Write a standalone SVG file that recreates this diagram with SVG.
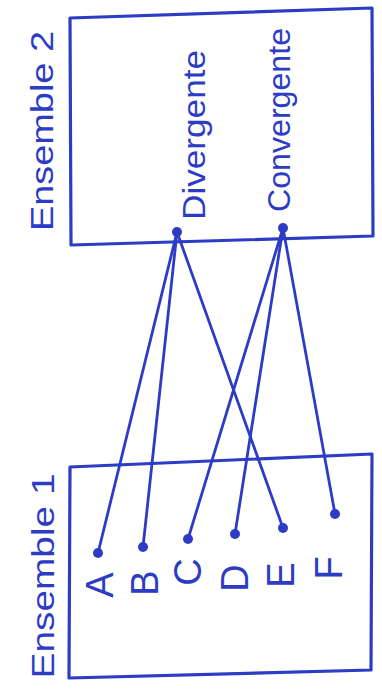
<svg xmlns="http://www.w3.org/2000/svg" width="382" height="696" viewBox="0 0 382 696">
<style>
.box{fill:none;stroke:#2c3cc4;stroke-width:3.2;stroke-linejoin:round}
.lbl{font-family:"Liberation Sans",Arial,sans-serif;fill:#2c3cc4;text-anchor:middle}
.big{font-size:32px}
.let{font-size:38px}
.edge{stroke:#2c3cc4;stroke-width:2.8;stroke-linecap:round}
.dot{fill:#2c3cc4}
</style>
<rect width="382" height="696" fill="#ffffff"/>
<g id="ensemble2">
<polygon class="box" points="70,18 372,8 373,236 71,245"/>
<text class="lbl big" x="53" y="131" transform="rotate(-90 53 131)" textLength="200" lengthAdjust="spacingAndGlyphs">Ensemble 2</text>
</g>
<g id="divergente">
<text class="lbl big" x="205" y="135" transform="rotate(-90 205 135)" textLength="170" lengthAdjust="spacingAndGlyphs">Divergente</text>
<circle class="dot" cx="177" cy="232" r="5"/>
</g>
<g id="convergente">
<text class="lbl big" x="290" y="120" transform="rotate(-90 290 120)" textLength="184" lengthAdjust="spacingAndGlyphs">Convergente</text>
<circle class="dot" cx="283" cy="228" r="5"/>
</g>
<g id="ensemble1">
<polygon class="box" points="70,467 372,454 371,670 69,678"/>
<text class="lbl big" x="54" y="576" transform="rotate(-90 54 576)" textLength="205" lengthAdjust="spacingAndGlyphs">Ensemble 1</text>
</g>
<g id="A"><text class="lbl let" x="113" y="585" transform="rotate(-90 113 585)">A</text><circle class="dot" cx="98" cy="553" r="5"/></g>
<g id="B"><text class="lbl let" x="158" y="583" transform="rotate(-90 158 583)">B</text><circle class="dot" cx="143" cy="547" r="5"/></g>
<g id="C"><text class="lbl let" x="201" y="572" transform="rotate(-90 201 572)">C</text><circle class="dot" cx="188" cy="539" r="5"/></g>
<g id="D"><text class="lbl let" x="248" y="578" transform="rotate(-90 248 578)">D</text><circle class="dot" cx="235" cy="534" r="5"/></g>
<g id="E"><text class="lbl let" x="294" y="575" transform="rotate(-90 294 575)">E</text><circle class="dot" cx="283" cy="528" r="5"/></g>
<g id="F"><text class="lbl let" x="342" y="568" transform="rotate(-90 342 568)">F</text><circle class="dot" cx="335" cy="514" r="5"/></g>
<g id="connectors">
<line class="edge" x1="177" y1="232" x2="98" y2="553"/>
<line class="edge" x1="177" y1="232" x2="143" y2="547"/>
<line class="edge" x1="177" y1="232" x2="283" y2="528"/>
<line class="edge" x1="283" y1="228" x2="188" y2="539"/>
<line class="edge" x1="283" y1="228" x2="235" y2="534"/>
<line class="edge" x1="283" y1="228" x2="335" y2="514"/>
</g>
</svg>
